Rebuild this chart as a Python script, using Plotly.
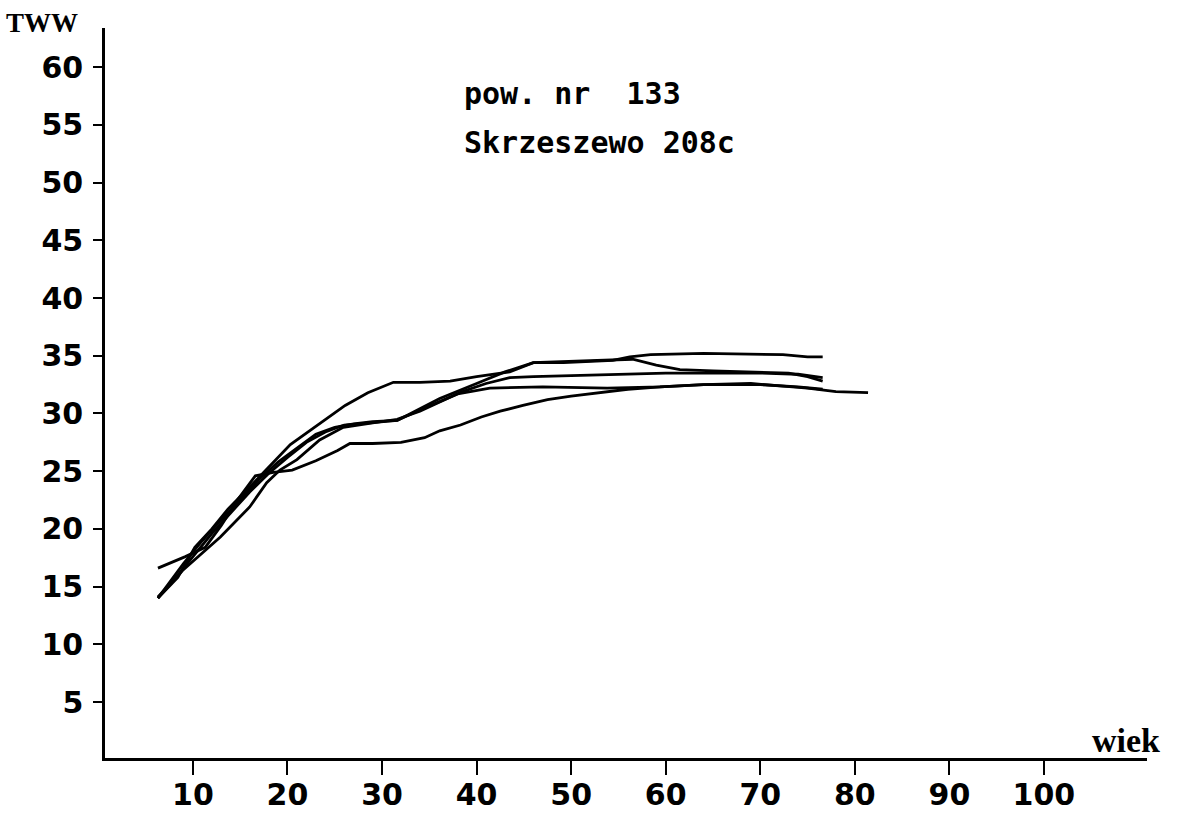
import plotly.graph_objects as go

# ---- data ----
x_a = [6.3, 8.4, 10.2, 12.0, 13.7, 15.5, 17.5, 20.3, 23.0, 26.1, 28.5, 31.2, 34.0, 37.2, 40.0, 43.5, 46.0, 49.2, 54.4, 56.2, 58.4, 64.0, 72.4, 75.0, 76.6]
y_a = [14.0, 15.8, 18.4, 20.0, 21.7, 23.2, 24.9, 27.3, 28.9, 30.7, 31.8, 32.7, 32.7, 32.8, 33.2, 33.6, 34.4, 34.4, 34.6, 34.9, 35.1, 35.2, 35.1, 34.9, 34.9]

x_b = [6.3, 8.9, 12.9, 16.0, 17.8, 19.2, 21.0, 23.4, 25.9, 29.0, 31.6, 34.0, 36.1, 38.5, 41.0, 43.5, 46.0, 50.0, 55.0, 60.0, 65.0, 70.0, 74.0, 76.6]
y_b = [14.0, 16.4, 19.3, 21.9, 24.0, 25.1, 26.0, 27.7, 28.8, 29.2, 29.5, 30.2, 31.0, 31.9, 32.6, 33.1, 33.2, 33.3, 33.4, 33.5, 33.5, 33.5, 33.4, 33.1]

x_c = [6.3, 9.0, 11.0, 13.0, 15.0, 17.0, 19.0, 21.0, 23.0, 25.0, 27.0, 29.0, 31.6, 34.0, 36.1, 40.0, 43.0, 46.0, 50.0, 54.0, 56.5, 59.0, 61.5, 65.0, 70.0, 73.0, 75.0, 76.6]
y_c = [14.0, 17.0, 19.0, 20.8, 22.5, 24.3, 25.8, 27.0, 28.2, 28.8, 29.1, 29.3, 29.4, 30.4, 31.3, 32.6, 33.6, 34.4, 34.5, 34.6, 34.7, 34.2, 33.8, 33.7, 33.6, 33.5, 33.2, 32.8]

x_d = [6.3, 8.0, 10.0, 12.0, 14.0, 16.0, 18.0, 20.0, 22.0, 24.0, 26.0, 29.0, 31.6, 34.0, 36.1, 38.0, 41.4, 47.0, 53.8, 59.4, 64.0, 70.0, 74.0, 76.6]
y_d = [14.1, 15.6, 17.6, 19.6, 21.4, 23.2, 24.8, 26.2, 27.5, 28.4, 29.0, 29.2, 29.4, 30.3, 31.0, 31.7, 32.2, 32.3, 32.2, 32.3, 32.5, 32.5, 32.3, 32.1]

x_e = [6.3, 9.2, 11.3, 13.0, 14.8, 16.6, 18.5, 20.5, 23.0, 25.3, 26.6, 29.0, 32.0, 34.5, 36.1, 38.3, 40.5, 42.5, 44.9, 47.5, 50.0, 53.8, 56.0, 59.4, 64.0, 69.0, 72.4, 75.0, 78.0, 81.4]
y_e = [16.6, 17.6, 18.4, 20.3, 22.6, 24.6, 24.9, 25.1, 25.9, 26.8, 27.4, 27.4, 27.5, 27.9, 28.5, 29.0, 29.7, 30.2, 30.7, 31.2, 31.5, 31.9, 32.1, 32.3, 32.5, 32.6, 32.4, 32.2, 31.9, 31.8]

series = [(x_a, y_a), (x_b, y_b), (x_c, y_c), (x_d, y_d), (x_e, y_e)]

x_ticks = [10, 20, 30, 40, 50, 60, 70, 80, 90, 100]
y_ticks = [5, 10, 15, 20, 25, 30, 35, 40, 45, 50, 55, 60]

title_lines = ["pow.\u00a0nr\u00a0\u00a0133", "Skrzeszewo\u00a0208c"]
y_title = "TWW"
x_title = "wiek"

# ---- figure ----
fig = go.Figure()
for xs, ys in series:
    fig.add_trace(go.Scatter(x=xs, y=ys, mode="lines",
                             line=dict(color="black", width=2.8),
                             showlegend=False, hoverinfo="skip"))

num_font = dict(family="DejaVu Sans", size=30, color="black", weight="bold")
txt_font = dict(family="DejaVu Sans Mono", size=30, color="black", weight="bold")

L, R, T, B = 105, 30, 28, 60
W, H = 1177, 818
PW, PH = W - L - R, H - T - B

def px(xp):
    return (xp - L) / PW

def py(yp):
    return (H - B - yp) / PH

fig.update_layout(
    width=W, height=H,
    margin=dict(l=L, r=R, t=T, b=B, pad=0, autoexpand=False),
    paper_bgcolor="white", plot_bgcolor="white",
    showlegend=False,
)
fig.update_xaxes(
    range=[0.7, 110.9], showgrid=False, zeroline=False, automargin=False,
    showline=True, linecolor="black", linewidth=2.5,
    ticks="outside", ticklen=14, tickwidth=2, tickcolor="black",
    tickvals=x_ticks, ticktext=[str(v) for v in x_ticks],
    tickfont=num_font, ticklabelstandoff=-6,
)
fig.update_yaxes(
    range=[0.15, 63.4], showgrid=False, zeroline=False, automargin=False,
    showline=True, linecolor="black", linewidth=2.5,
    ticks="outside", ticklen=9, tickwidth=2, tickcolor="black",
    tickvals=y_ticks, ticktext=[str(v) for v in y_ticks],
    tickfont=num_font, ticklabelstandoff=4,
)

fig.add_annotation(text=title_lines[0], xref="paper", yref="paper",
                   x=px(462), y=py(93),
                   xanchor="left", yanchor="middle", showarrow=False, font=txt_font)
fig.add_annotation(text=title_lines[1], xref="paper", yref="paper",
                   x=px(462), y=py(143),
                   xanchor="left", yanchor="middle", showarrow=False, font=txt_font)
fig.add_annotation(text=y_title, xref="paper", yref="paper",
                   x=px(42), y=py(23),
                   xanchor="center", yanchor="middle", showarrow=False,
                   font=dict(family="Liberation Serif", size=27, color="black", weight="bold"))
fig.add_annotation(text=x_title, xref="paper", yref="paper",
                   x=px(1162), y=py(740),
                   xanchor="right", yanchor="middle", showarrow=False,
                   font=dict(family="Liberation Serif", size=34, color="black", weight="bold"))

fig.write_html("out.html")
